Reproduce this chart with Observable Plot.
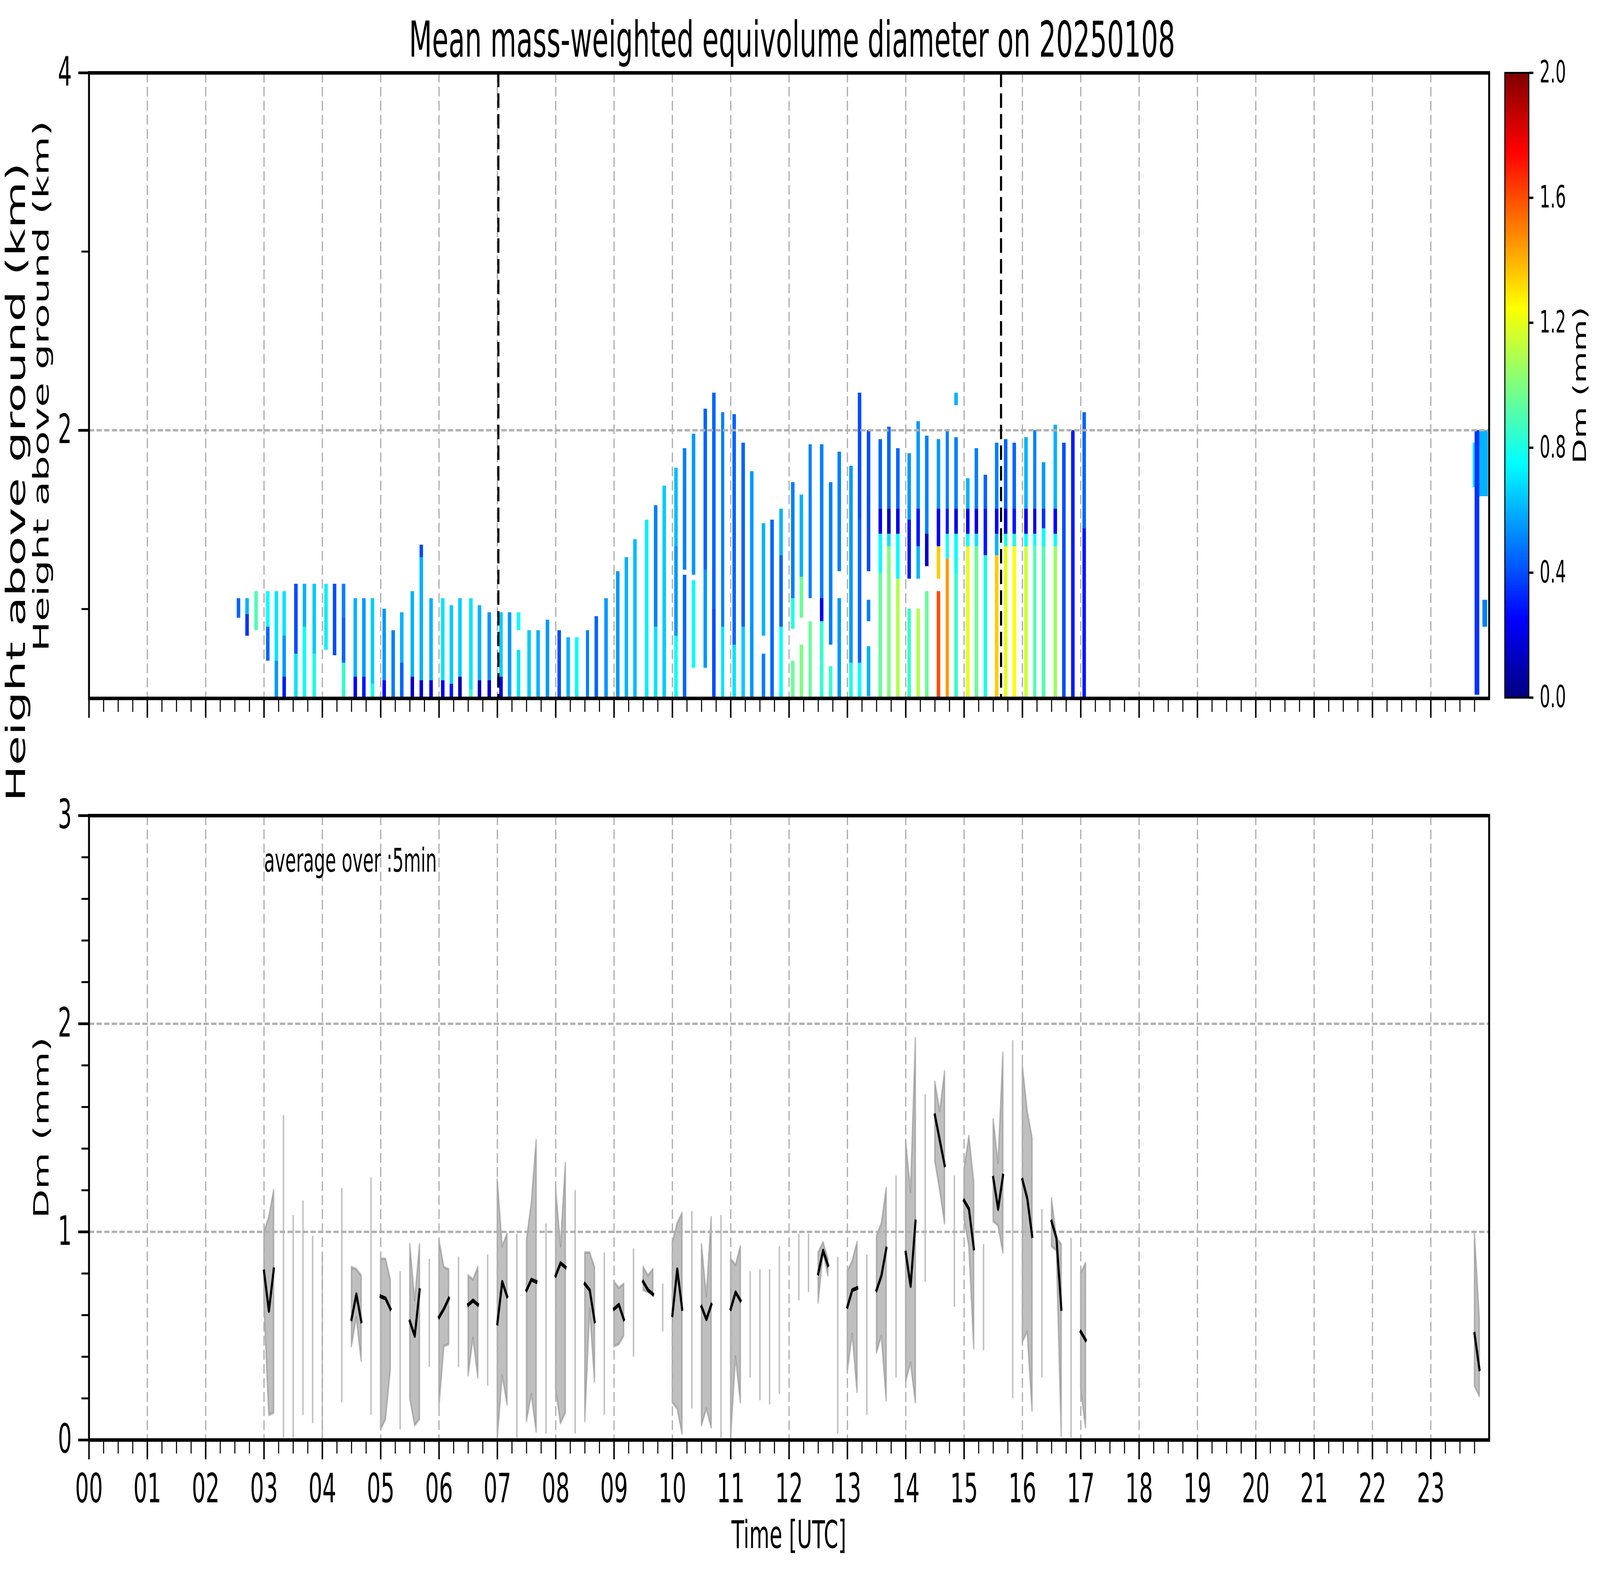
<!DOCTYPE html>
<html><head><meta charset="utf-8">
<script src="https://cdn.jsdelivr.net/npm/d3@7"></script>
<script src="https://cdn.jsdelivr.net/npm/@observablehq/plot@0.6"></script>
<style>
html,body{margin:0;padding:0;background:#fff;overflow:hidden;}
#wrap{position:relative;overflow:hidden;background:#fff;}
#fig{position:absolute;left:0;top:0;width:7541px;height:4031px;background:#fff;font-family:"DejaVu Sans";overflow:hidden;transform-origin:0 0;}
#fig > svg{position:absolute;}
</style></head><body><div id="wrap"><div id="fig"></div></div>
<script>
// ---------------- data ----------------
const hourLabels = ["00","01","02","03","04","05","06","07","08","09","10","11","12","13","14","15","16","17","18","19","20","21","22","23"];
const cbTicks = [0, 0.4, 0.8, 1.2, 1.6, 2.0];
const topYMajor = [2, 4];
const topYMinor = [1, 3];
const botYMajor = [0, 1, 2, 3];
const markerTimes = ["07:01", "15:38"];
const stripeMinutes = 3.6;

const stripeStart = ["02:32","02:41","02:50",
"03:02","03:11","03:19","03:31","03:40","03:50",
"04:02","04:11","04:20","04:32","04:41","04:50",
"05:02","05:11","05:20","05:31","05:40","05:50",
"06:02","06:11","06:20","06:31","06:40","06:50",
"07:02","07:11","07:20","07:31","07:40","07:50",
"08:02","08:11","08:20","08:31","08:40","08:50",
"09:02","09:11","09:20","09:32","09:41","09:50",
"10:02","10:11","10:20","10:32","10:41","10:50",
"11:02","11:11","11:20","11:32","11:41","11:50",
"12:02","12:11","12:20","12:32","12:41","12:50",
"13:02","13:11","13:20","13:32","13:41","13:50",
"14:02","14:11","14:20","14:32","14:41","14:50",
"15:02","15:11","15:20","15:32","15:41","15:50",
"16:02","16:11","16:20","16:32","16:41","16:50",
"17:02"];

// per stripe: [bottom km, top km, Dm mm]
const stripeLayers = [
[[0.95,1.06,0.45]],
[[0.85,0.97,0.35],[0.97,1.06,0.6]],
[[0.88,1.10,0.9]],
[[0.71,0.9,0.45],[0.9,1.10,0.75]],
[[0.5,0.71,0.55],[0.71,1.10,0.7]],
[[0.5,0.62,0.3],[0.62,0.85,0.55],[0.85,1.10,0.7]],
[[0.5,0.75,0.7],[0.75,1.14,0.4]],
[[0.5,0.9,0.75],[0.9,1.14,0.6]],
[[0.5,0.75,0.8],[0.75,1.14,0.65]],
[[0.77,1.14,0.72]],
[[0.74,1.14,0.4]],
[[0.5,0.7,0.85],[0.7,0.95,0.45],[0.95,1.14,0.5]],
[[0.5,0.62,0.25],[0.62,1.06,0.6]],
[[0.5,0.62,0.3],[0.62,1.06,0.55]],
[[0.5,0.58,0.8],[0.58,1.06,0.65]],
[[0.5,0.6,0.25],[0.6,1.00,0.55]],
[[0.5,0.88,0.5]],
[[0.5,0.7,0.45],[0.7,0.98,0.6]],
[[0.5,0.62,0.15],[0.62,1.10,0.6]],
[[0.5,0.6,0.2],[0.6,1.29,0.6],[1.29,1.36,0.4]],
[[0.5,0.6,0.2],[0.6,1.06,0.6]],
[[0.5,0.6,0.25],[0.6,1.06,0.7]],
[[0.5,0.58,0.3],[0.58,1.02,0.65]],
[[0.5,0.62,0.1],[0.62,1.06,0.65]],
[[0.5,0.55,0.85],[0.55,1.06,0.7]],
[[0.5,0.6,0.1],[0.6,1.02,0.6]],
[[0.5,0.6,0.15],[0.6,0.98,0.55]],
[[0.5,0.62,0.2],[0.62,0.98,0.65]],
[[0.5,0.98,0.55]],
[[0.5,0.77,0.7],[0.88,0.98,0.75]],
[[0.5,0.88,0.65]],
[[0.5,0.88,0.6]],
[[0.5,0.94,0.55]],
[[0.5,0.88,0.4]],
[[0.5,0.84,0.6]],
[[0.5,0.84,0.75]],
[[0.5,0.88,0.5]],
[[0.5,0.96,0.45]],
[[0.5,1.06,0.55]],
[[0.5,1.21,0.55]],
[[0.5,1.29,0.6]],
[[0.5,1.39,0.62]],
[[0.5,1.50,0.72]],
[[0.5,0.9,0.7],[0.9,1.58,0.5]],
[[0.5,1.69,0.65]],
[[0.5,0.85,0.75],[0.85,1.35,0.55],[1.35,1.79,0.62]],
[[0.5,1.19,0.45],[1.22,1.90,0.5]],
[[0.67,1.16,0.75],[1.19,1.98,0.55]],
[[0.67,1.22,0.55],[1.22,2.12,0.45]],
[[0.5,1.0,0.4],[1.0,2.21,0.45]],
[[0.5,0.9,0.7],[0.9,2.10,0.5]],
[[0.5,0.8,0.7],[0.8,2.09,0.45]],
[[0.5,0.9,0.65],[0.9,1.93,0.45]],
[[0.5,1.77,0.55]],
[[0.5,0.75,0.5],[0.85,1.48,0.6]],
[[0.5,1.50,0.45]],
[[0.5,0.9,0.75],[0.9,1.3,0.45],[1.3,1.56,0.6]],
[[0.5,0.71,0.95],[0.89,1.06,0.8],[1.06,1.71,0.5]],
[[0.5,0.8,1.0],[0.95,1.18,0.95],[1.18,1.64,0.6]],
[[0.5,0.93,0.95],[1.06,1.92,0.5]],
[[0.5,0.93,0.85],[0.93,1.06,0.25],[1.06,1.92,0.5]],
[[0.5,0.68,0.85],[0.8,1.71,0.5]],
[[0.5,1.06,0.55],[1.21,1.88,0.5]],
[[0.5,0.7,0.8],[0.7,1.80,0.55]],
[[0.5,0.7,0.75],[0.7,1.5,0.45],[1.5,2.21,0.4]],
[[0.51,0.79,0.6],[0.93,1.05,0.5],[1.21,2.0,0.4]],
[[0.5,1.2,0.95],[1.2,1.42,0.75],[1.42,1.56,0.2],[1.56,1.95,0.45]],
[[0.5,1.35,1.0],[1.35,1.42,0.7],[1.42,1.56,0.15],[1.56,2.02,0.45]],
[[0.5,1.17,1.1],[1.17,1.42,0.75],[1.42,1.56,0.2],[1.56,1.9,0.45]],
[[0.5,1.0,0.85],[1.17,1.5,0.3],[1.5,1.87,0.55]],
[[0.5,1.0,1.1],[1.17,1.35,0.6],[1.35,1.56,0.3],[1.56,2.05,0.55]],
[[0.5,1.1,0.95],[1.24,1.42,0.15],[1.42,1.97,0.5]],
[[0.5,1.1,1.6],[1.17,1.35,1.35],[1.35,1.56,0.25],[1.56,1.95,0.55]],
[[0.5,1.28,1.45],[1.28,1.42,0.75],[1.42,1.56,0.3],[1.56,2.0,0.5]],
[[0.5,1.2,0.85],[1.2,1.42,0.75],[1.42,1.56,0.2],[1.56,1.96,0.5],[2.14,2.21,0.6]],
[[0.5,1.35,1.2],[1.35,1.42,0.75],[1.42,1.56,0.2],[1.56,1.73,0.6]],
[[0.5,1.35,0.95],[1.35,1.42,0.7],[1.42,1.56,0.2],[1.56,1.9,0.5]],
[[0.5,1.3,0.8],[1.3,1.56,0.3],[1.56,1.75,0.45]],
[[0.5,1.3,1.35],[1.3,1.42,0.6],[1.42,1.56,0.25],[1.56,1.93,0.5]],
[[0.5,1.35,1.2],[1.35,1.42,0.8],[1.42,1.56,0.15],[1.56,1.95,0.45]],
[[0.5,1.35,1.25],[1.35,1.42,0.8],[1.42,1.56,0.3],[1.56,1.93,0.45]],
[[0.5,1.35,1.15],[1.35,1.42,0.75],[1.42,1.56,0.2],[1.56,1.96,0.6]],
[[0.5,1.35,0.9],[1.35,1.42,0.75],[1.42,1.56,0.2],[1.56,2.0,0.5]],
[[0.5,1.35,0.9],[1.35,1.45,0.75],[1.45,1.56,0.35],[1.56,1.82,0.55]],
[[0.5,1.35,1.05],[1.35,1.42,0.75],[1.42,1.56,0.25],[1.56,2.03,0.6]],
[[0.5,1.93,0.4]],
[[0.5,2.0,0.3]],
[[0.5,1.45,0.3],[1.45,2.1,0.45]]
];

// late-evening echoes: [start, end, bottom km, top km, Dm mm]
const lateCells = [
["23:43","23:46",1.68,1.93,0.7],
["23:45","23:50",0.52,2.0,0.35],
["23:50","23:59",1.63,2.0,0.6],
["23:53","23:58",0.9,1.05,0.5]
];

// bottom panel: 5-min averages (start time of each run)
const bandStart = ["03:00","04:30","05:00","05:30","06:00","06:30","07:00","07:30","08:00","08:30","09:00","09:30","10:00","10:30","11:00","12:30","13:00","13:30","14:00","14:30","15:00","15:30","16:00","16:30","17:00","23:45"];
const bandMean = [
[0.81,0.62,0.82],[0.58,0.70,0.57],[0.69,0.68,0.63],[0.57,0.50,0.72],[0.59,0.63,0.68],
[0.65,0.67,0.65],[0.56,0.76,0.69],[0.72,0.77,0.76],[0.79,0.85,0.83],[0.75,0.72,0.57],
[0.63,0.65,0.58],[0.76,0.72,0.70],[0.60,0.82,0.63],[0.64,0.58,0.65],[0.63,0.71,0.67],
[0.80,0.91,0.84],[0.64,0.72,0.73],[0.72,0.79,0.92],[0.90,0.74,1.05],[1.56,1.44,1.32],
[1.15,1.11,0.92],[1.26,1.11,1.27],[1.25,1.16,0.98],[1.05,0.97,0.63],[0.52,0.48],[0.51,0.34]];
const bandLow = [
[0.65,0.12,0.13],[0.45,0.59,0.38],[0.05,0.10,0.34],[0.20,0.07,0.10],[0.16,0.45,0.46],
[0.31,0.49,0.30],[0.01,0.31,0.17],[0.09,0.22,0.04],[0.24,0.08,0.13],[0.09,0.63,0.28],
[0.45,0.46,0.50],[0.72,0.71,0.70],[0.18,0.15,0.03],[0.07,0.15,0.06],[0.01,0.40,0.18],
[0.66,0.90,0.79],[0.33,0.51,0.23],[0.42,0.50,0.19],[0.28,0.37,0.18],[1.34,1.20,1.04],
[1.06,0.93,0.44],[1.05,1.03,0.90],[0.47,0.52,0.14],[0.93,0.91,0.02],[0.24,0.06],[0.26,0.21]];
const bandHigh = [
[1.00,1.07,1.20],[0.83,0.82,0.79],[0.87,0.87,0.77],[0.94,0.67,0.94],[0.96,0.83,0.82],
[0.79,0.77,0.83],[1.25,0.93,0.99],[0.96,1.14,1.44],[1.21,0.93,1.33],[0.90,0.90,0.83],
[0.76,0.73,0.75],[0.83,0.79,0.82],[0.95,1.04,1.09],[0.94,0.69,1.07],[0.87,0.84,0.93],
[0.90,0.95,0.87],[0.81,0.86,0.95],[0.98,1.04,1.21],[1.44,1.19,1.93],[1.72,1.58,1.77],
[1.30,1.46,1.24],[1.54,1.33,1.86],[1.80,1.58,1.45],[1.16,0.97,0.94],[0.80,0.85],[0.99,0.58]];

// isolated single-sample ranges
const spikeTime = ["03:20","03:30","03:40","03:50","04:00","04:20","04:50","05:20","05:50","06:20","06:50","07:20","07:50","08:20","08:50","09:20","09:50","10:20","10:50","11:20","11:30","11:40","11:50","12:10","12:20","12:50","13:20","13:50","14:20","14:50","15:20","15:50","16:20","16:50"];
const spikeLow  = [0.01,0.01,0.12,0.08,0.01,0.18,0.12,0.05,0.35,0.35,0.26,0.01,0.03,0.03,0.12,0.40,0.52,0.15,0.01,0.30,0.19,0.17,0.22,0.67,0.71,0.03,0.12,0.30,0.76,0.64,0.43,0.20,0.30,0.01];
const spikeHigh = [1.56,1.08,1.15,0.98,0.89,1.21,1.26,0.81,0.87,0.88,0.89,0.99,1.04,1.20,0.90,0.92,0.75,1.10,1.08,0.81,0.82,0.82,0.93,0.99,0.99,0.88,0.89,1.27,1.66,1.27,0.94,1.92,1.11,0.97];

// ---------------- helpers ----------------
const toH = s => { const [h, m] = s.split(":").map(Number); return h + m / 60; };
function jet(t) {
  const c = v => Math.max(0, Math.min(1, v));
  return d3.rgb(255 * c(Math.min(4*t - 1.5, -4*t + 4.5)),
                255 * c(Math.min(4*t - 0.5, -4*t + 3.5)),
                255 * c(Math.min(4*t + 0.5, -4*t + 2.5))).formatHex();
}
const colorScale = {type: "linear", domain: [0, 2], interpolate: jet, clamp: true};

const cells = [];
stripeStart.forEach((s, i) => {
  const t0 = toH(s);
  stripeLayers[i].forEach(([h0, h1, dm]) => cells.push({t0, t1: t0 + stripeMinutes / 60, h0, h1, dm}));
});
lateCells.forEach(([a, b, h0, h1, dm]) => cells.push({t0: toH(a), t1: toH(b), h0, h1, dm}));

const bandRows = [];
bandStart.forEach((s, i) => {
  bandMean[i].forEach((m, j) => bandRows.push({seg: i, t: toH(s) + j * 5 / 60, mean: m, low: bandLow[i][j], high: bandHigh[i][j]}));
});
const spikeRows = spikeTime.map((s, i) => ({t: toH(s), low: spikeLow[i], high: spikeHigh[i]}));

const hourTicks = hourLabels.map((_, i) => i);
const minorX = d3.range(0, 97).filter(i => i % 4 !== 0).map(i => i / 4);
const botYMinor = d3.range(1, 15).filter(i => i % 5 !== 0).map(i => i / 5);

const gridStyle = {stroke: "#b0b0b0", strokeOpacity: 1, strokeWidth: 6, strokeDasharray: "25,11"};
const svgStyle = {background: "transparent", fontFamily: "DejaVu Sans", fontSize: "103px", overflow: "visible", color: "black", maxWidth: "none"};
const fig = document.getElementById("fig");

// ---------------- top panel ----------------
const topPlot = Plot.plot({
  width: 7541, height: 1900, marginLeft: 419, marginRight: 523, marginTop: 186, marginBottom: 113,
  style: svgStyle,
  x: {domain: [0, 24]}, y: {domain: [0.5, 4]},
  color: colorScale,
  marks: [
    Plot.rect(cells, {x1: "t0", x2: "t1", y1: "h0", y2: "h1", fill: "dm", shapeRendering: "crispEdges"}),
    Plot.gridX(hourTicks, gridStyle),
    Plot.gridY(topYMajor, gridStyle),
    Plot.ruleX(markerTimes.map(toH), {stroke: "black", strokeWidth: 10, strokeDasharray: "37,16"}),
    Plot.axisX(minorX, {tickSize: 35, strokeWidth: 5, tickFormat: () => "", label: null}),
    Plot.axisX(hourTicks, {tickSize: 50, strokeWidth: 7, tickFormat: () => "", label: null}),
    Plot.axisY(topYMinor, {tickSize: 35, strokeWidth: 5, tickFormat: () => "", label: null}),
    Plot.axisY(topYMajor, {tickSize: 50, strokeWidth: 7, tickPadding: 31, fontSize: 103, tickFormat: d => String(d), label: null}),
    Plot.frame({stroke: "black", strokeWidth: 9})
  ]
});
topPlot.style.left = "0px"; topPlot.style.top = "0px";
fig.appendChild(topPlot);

// ---------------- colorbar ----------------
const cbPlot = Plot.plot({
  width: 449, height: 1900, marginLeft: 0, marginRight: 336, marginTop: 186, marginBottom: 115,
  style: svgStyle,
  x: {domain: [0, 1], axis: null}, y: {domain: [0, 2]},
  color: colorScale,
  marks: [
    Plot.raster({x1: 0, x2: 1, y1: 0, y2: 2, width: 1, height: 512, fill: (x, y) => y}),
    Plot.axisY(cbTicks, {anchor: "right", tickSize: 21, tickPadding: 30, strokeWidth: 6, fontSize: 78, tickFormat: d3.format(".1f"), label: null}),
    Plot.frame({stroke: "black", strokeWidth: 5})
  ]
});
cbPlot.style.left = "7092px"; cbPlot.style.top = "0px";
fig.appendChild(cbPlot);

// ---------------- bottom panel ----------------
const botPlot = Plot.plot({
  width: 7541, height: 2081, marginLeft: 419, marginRight: 523, marginTop: 137, marginBottom: 346,
  style: svgStyle,
  x: {domain: [0, 24]}, y: {domain: [0, 3]},
  marks: [
    Plot.areaY(bandRows, {x: "t", y1: "low", y2: "high", z: "seg", fill: "#808080", fillOpacity: 0.5, stroke: "#808080", strokeOpacity: 0.5, strokeWidth: 6.7}),
    Plot.ruleX(spikeRows, {x: "t", y1: "low", y2: "high", stroke: "#808080", strokeOpacity: 0.5, strokeWidth: 6.7}),
    Plot.gridX(hourTicks, gridStyle),
    Plot.gridY(botYMajor, gridStyle),
    Plot.line(bandRows, {x: "t", y: "mean", z: "seg", stroke: "black", strokeWidth: 10, strokeLinecap: "square", strokeLinejoin: "round"}),
    Plot.text(["average over :5min"], {x: 3, y: 2.73, text: d => d, textAnchor: "start", lineAnchor: "bottom", fontSize: 83, fill: "black"}),
    Plot.axisX(minorX, {tickSize: 35, strokeWidth: 5, tickFormat: () => "", label: null}),
    Plot.axisX(hourTicks, {tickSize: 50, strokeWidth: 7, tickPadding: 36, fontSize: 103, tickFormat: d => hourLabels[d], label: null}),
    Plot.axisY(botYMinor, {tickSize: 35, strokeWidth: 5, tickFormat: () => "", label: null}),
    Plot.axisY(botYMajor, {tickSize: 50, strokeWidth: 7, tickPadding: 31, fontSize: 103, tickFormat: d => String(d), label: null}),
    Plot.frame({stroke: "black", strokeWidth: 9})
  ]
});
botPlot.style.left = "0px"; botPlot.style.top = "1950px";
fig.appendChild(botPlot);

// ---------------- titles & labels ----------------
const ov = d3.create("svg").attr("width", 7541).attr("height", 4031)
  .style("left", "0px").style("top", "0px").style("pointer-events", "none")
  .attr("font-family", "DejaVu Sans").attr("fill", "black");
ov.append("text").attr("x", 3733).attr("y", 145).attr("text-anchor", "middle").attr("font-size", 126)
  .text("Mean mass-weighted equivolume diameter on 20250108");
ov.append("text").attr("transform", "translate(118,1234) rotate(-90)").attr("text-anchor", "middle").attr("font-size", 124)
  .text("Height above ground (km)");
ov.append("text").attr("transform", "translate(228,988) rotate(-90)").attr("text-anchor", "middle").attr("font-size", 103)
  .text("Height above ground (km)");
ov.append("text").attr("transform", "translate(228,2886) rotate(-90)").attr("text-anchor", "middle").attr("font-size", 97)
  .text("Dm (mm)");
ov.append("text").attr("x", 3718).attr("y", 3962).attr("text-anchor", "middle").attr("font-size", 98)
  .text("Time [UTC]");
ov.append("text").attr("transform", "translate(7474,986) rotate(-90)").attr("text-anchor", "middle").attr("font-size", 84)
  .text("Dm (mm)");
fig.appendChild(ov.node());

// ---------------- fill the browser viewport with the 7541x4031 figure ----------------
const wrap = document.getElementById("wrap");
function fit() {
  const vw = window.innerWidth || document.documentElement.clientWidth || 7541;
  const vh = window.innerHeight || document.documentElement.clientHeight || 4031;
  const sx = vw / 7541, sy = vh / 4031;
  fig.style.transform = `scale(${sx}, ${sy})`;
  wrap.style.width = (7541 * sx) + "px";
  wrap.style.height = (4031 * sy) + "px";
}
fit();
window.addEventListener("resize", fit);
</script></body></html>
